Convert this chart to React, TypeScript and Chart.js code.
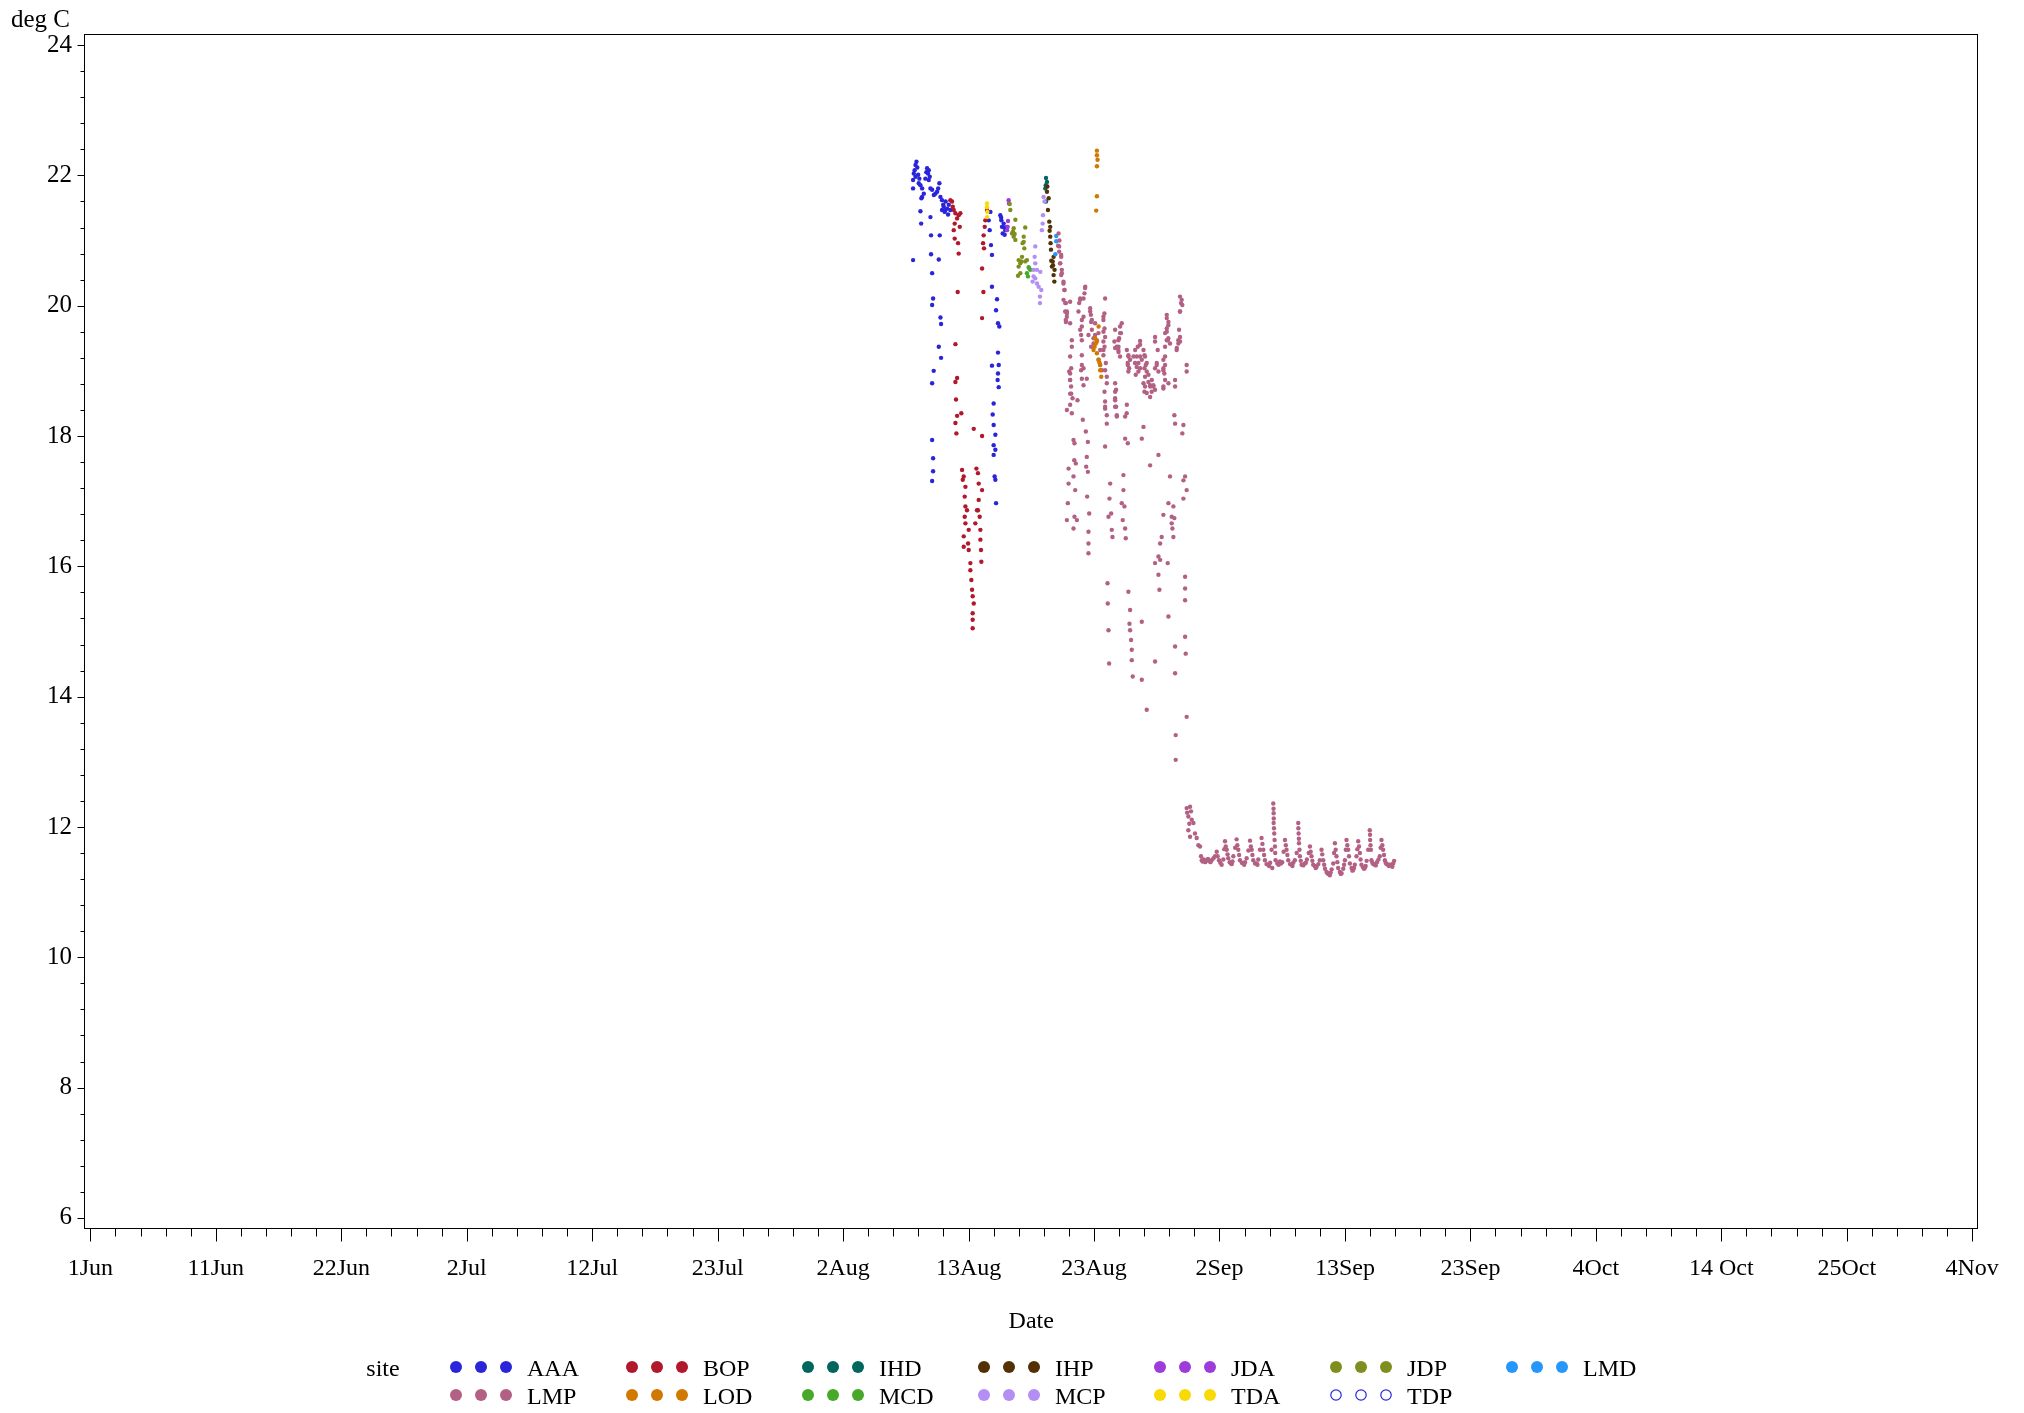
import React, { useEffect, useRef } from "react";
import { Chart, registerables } from "chart.js";

Chart.register(...registerables);

type Pt = [number, number];

// x = days since 1 Jun (fractional), y = deg C
const SITES = ["AAA", "BOP", "IHD", "IHP", "JDA", "JDP", "LMD", "LMP", "LOD", "MCD", "MCP", "TDA", "TDP"];
const COLORS = ["#2A25D9", "#B2182B", "#01665E", "#543005", "#9D3CDB", "#7F8E1F", "#2597FA", "#B26084", "#D17800", "#47A82A", "#B38EF3", "#F9DA04", "#2A25D9"];
const HOLLOW = [false, false, false, false, false, false, false, false, false, false, false, false, true];

const AAA: Pt[] = [
  [68.48, 22.21], [68.40, 22.16], [68.26, 22.03], [68.20, 21.93], [68.40, 21.98], [68.62, 22.01], [68.67, 21.88], [68.81, 21.85],
  [68.95, 21.80], [69.09, 21.72], [68.95, 21.67], [68.89, 21.65], [68.20, 21.80], [69.36, 22.11], [69.50, 22.08], [69.44, 22.03],
  [69.22, 21.95], [69.50, 21.93], [69.64, 21.80], [69.78, 21.78], [70.05, 21.72], [70.19, 21.75], [70.38, 21.88], [70.47, 21.67],
  [70.60, 21.62], [70.74, 21.52], [70.88, 21.47], [71.02, 21.49], [71.16, 21.55], [71.29, 21.47], [70.60, 21.47], [70.82, 21.44],
  [68.81, 21.45], [68.87, 21.26], [69.64, 21.36], [69.69, 21.08], [70.41, 21.08], [69.69, 20.79], [70.33, 20.71], [68.20, 20.70],
  [69.78, 20.50], [69.86, 20.11], [69.78, 20.01], [70.47, 19.82], [70.52, 19.72], [70.33, 19.37], [70.52, 19.20], [69.91, 19.00],
  [69.78, 18.81], [69.78, 17.94], [69.86, 17.66], [69.86, 17.46], [69.78, 17.31],
  [68.55, 22.12], [68.33, 22.08], [68.72, 21.95], [69.30, 22.05], [69.58, 21.98], [69.92, 21.70], [70.28, 21.80], [70.90, 21.60],
  [71.10, 21.40], [70.70, 21.55],
  [74.61, 21.44], [74.47, 21.31], [74.55, 21.16], [74.66, 20.93], [74.74, 20.78], [74.74, 20.29], [75.16, 20.10], [75.08, 19.93],
  [75.24, 19.73], [75.35, 19.68], [75.24, 19.28], [74.74, 19.08], [75.30, 19.09], [75.24, 18.96], [75.21, 18.86], [75.30, 18.75],
  [74.88, 18.50], [74.80, 18.33], [74.88, 18.17], [75.02, 18.02], [74.88, 17.86], [75.02, 17.79], [74.88, 17.71], [74.96, 17.38],
  [75.02, 17.33], [75.08, 16.97],
  [75.43, 21.39], [75.52, 21.31], [75.71, 21.26], [75.85, 21.16], [75.63, 21.11], [75.99, 21.21], [75.79, 21.09], [75.57, 21.21],
  [75.50, 21.35], [75.75, 21.20],
];

const BOP: Pt[] = [
  [71.29, 21.62], [71.43, 21.60], [71.49, 21.52], [71.57, 21.47], [71.71, 21.42], [71.98, 21.39], [72.12, 21.42], [71.85, 21.34],
  [71.65, 21.26], [71.57, 21.16], [72.07, 21.21], [71.65, 21.03], [71.93, 20.96], [71.98, 20.80], [71.90, 20.21], [71.71, 19.41],
  [71.85, 18.89], [71.71, 18.83], [71.76, 18.56], [72.20, 18.35], [71.85, 18.31], [71.71, 18.20], [71.79, 18.04], [73.23, 18.11],
  [73.92, 18.00],
  [72.26, 17.48], [72.40, 17.38], [72.54, 17.22], [72.48, 17.07], [72.67, 16.86], [72.48, 16.76], [72.81, 16.56], [72.40, 16.46],
  [72.76, 16.35], [72.40, 16.30], [72.95, 16.05], [73.03, 15.79], [73.14, 15.54], [73.23, 15.43], [73.14, 15.28], [73.14, 15.18],
  [73.14, 15.05], [72.54, 16.92], [72.32, 17.33], [72.81, 16.25], [72.95, 15.94], [73.09, 15.64], [72.54, 16.66],
  [73.45, 17.50], [73.58, 17.43], [73.64, 17.27], [73.92, 17.17], [73.64, 17.02], [73.58, 16.86], [73.72, 16.76], [73.36, 16.66],
  [73.78, 16.56], [73.78, 16.41], [73.83, 16.25], [73.86, 16.07], [73.50, 16.86],
  [74.33, 21.47], [74.19, 21.31], [74.14, 21.21], [74.05, 21.08], [74.00, 20.96], [74.08, 20.88], [74.03, 20.21], [73.92, 19.81],
  [73.92, 20.57],
];

const IHD: Pt[] = [[79.22, 21.96], [79.16, 21.80], [79.22, 21.60], [79.30, 21.90], [79.20, 21.85]];

const IHP: Pt[] = [
  [79.30, 21.75], [79.44, 21.65], [79.38, 21.47], [79.49, 21.29], [79.57, 21.21], [79.57, 21.06], [79.60, 20.96], [79.63, 20.86],
  [79.85, 20.75], [79.77, 20.68], [79.71, 20.60], [79.93, 20.55], [79.85, 20.47], [79.91, 20.37], [79.33, 21.83], [79.66, 20.69],
  [79.80, 20.62], [79.52, 21.15],
];

const JDA: Pt[] = [[76.12, 21.62], [76.07, 21.30], [76.04, 21.21], [75.99, 21.16], [76.15, 21.57]];

const JDP: Pt[] = [
  [76.21, 21.56], [76.26, 21.47], [76.68, 21.32], [77.50, 21.20], [76.54, 21.19], [76.40, 21.11], [76.54, 21.06], [76.68, 21.01],
  [77.37, 21.06], [77.28, 20.96], [77.42, 20.88], [77.23, 20.75], [76.95, 20.70], [77.09, 20.65], [77.50, 20.68], [77.64, 20.70],
  [76.95, 20.60], [77.09, 20.50], [76.90, 20.46], [76.48, 21.14], [76.62, 21.10], [77.37, 20.98], [77.17, 20.68],
];

const LMD: Pt[] = [[80.07, 21.07], [80.07, 20.99], [79.99, 20.79]];

const LMP: Pt[] = [
  [80.26, 21.11], [80.33, 21.00], [80.22, 20.92],
  [80.31, 20.83], [80.48, 20.75], [80.40, 20.65], [80.53, 20.55], [80.48, 20.47], [80.67, 20.34], [80.75, 20.24], [80.67, 20.09],
  [80.87, 20.04], [80.81, 19.91], [80.95, 19.83],
  [81.22, 20.06], [80.95, 19.91], [80.87, 19.75], [81.22, 19.73], [81.36, 19.47], [81.22, 19.22], [81.31, 19.04], [81.14, 18.99],
  [81.22, 18.86], [81.31, 18.65], [81.42, 18.58], [80.95, 18.40], [81.50, 17.94], [81.58, 17.89], [81.56, 17.63], [81.09, 17.50],
  [81.69, 17.58], [81.50, 17.38], [81.64, 17.17], [81.09, 17.27], [81.58, 16.76], [81.78, 16.71], [81.03, 16.97], [80.95, 16.71],
  [81.50, 16.58], [81.83, 18.55], [81.22, 18.65],
  [82.47, 20.29], [82.41, 20.19], [82.05, 20.11], [81.97, 20.04], [82.88, 19.96], [82.94, 19.86], [83.02, 19.78], [82.33, 19.83],
  [82.19, 19.68], [82.13, 19.55], [82.74, 19.55], [83.16, 19.50], [82.96, 19.37], [82.19, 19.24], [82.19, 19.09], [82.33, 19.04],
  [82.60, 18.88], [82.19, 18.88], [82.27, 18.25], [82.52, 18.07], [82.69, 17.91], [82.60, 17.68], [82.69, 17.45], [82.63, 17.07],
  [82.80, 16.81], [82.74, 16.53], [82.74, 16.35], [82.74, 16.20], [82.55, 17.53],
  [83.29, 19.73], [83.29, 19.55], [83.57, 19.58], [83.43, 19.47], [83.16, 19.42], [83.71, 19.32], [83.57, 19.17], [83.71, 19.09],
  [83.85, 19.01], [83.98, 19.83], [84.07, 19.65], [84.12, 19.52], [84.07, 19.37], [84.18, 19.12], [84.26, 18.91], [84.07, 18.68],
  [84.12, 18.53], [84.12, 18.45], [84.26, 18.19], [84.12, 17.84], [84.32, 15.74], [84.34, 15.43], [84.40, 15.02], [84.45, 14.51],
  [84.54, 17.27], [84.48, 17.04], [84.62, 16.81], [84.67, 16.56], [84.73, 16.45], [84.40, 16.76],
  [84.95, 19.63], [84.89, 19.45], [85.28, 19.50], [85.23, 19.37], [85.36, 19.58], [85.50, 19.73], [85.23, 19.29], [84.95, 18.81],
  [85.03, 18.71], [84.95, 18.58], [85.03, 18.45], [85.09, 18.32], [85.92, 18.48], [85.78, 17.96], [86.00, 17.89], [86.05, 15.61],
  [86.19, 15.33], [86.14, 15.12], [86.19, 15.02], [86.27, 14.87], [86.33, 14.72], [86.33, 14.56], [86.41, 14.31], [85.64, 17.40],
  [85.64, 17.17], [85.50, 16.97], [85.72, 16.92], [85.58, 16.71], [85.78, 16.58], [85.83, 16.43], [85.92, 19.32], [86.05, 19.22],
  [86.00, 19.09], [86.05, 18.99], [86.19, 19.17],
  [86.61, 19.32], [86.74, 19.22], [86.88, 19.12], [87.02, 19.04], [86.83, 19.37], [87.02, 19.46], [87.30, 19.32], [87.43, 19.22],
  [87.57, 19.12], [87.38, 19.04], [87.30, 18.81], [87.43, 18.76], [87.71, 18.83], [87.85, 18.78], [87.99, 18.86], [88.12, 18.76],
  [87.85, 18.60], [87.30, 18.14], [87.16, 17.96], [87.85, 17.55], [87.57, 13.80], [87.16, 14.26], [87.16, 15.15], [88.26, 14.54],
  [88.54, 17.71], [88.26, 19.52], [88.40, 19.12], [88.26, 19.04], [88.48, 19.32],
  [89.23, 19.86], [89.37, 19.75], [89.23, 19.65], [89.09, 19.58], [89.31, 19.47], [89.09, 19.37], [88.95, 19.17], [89.09, 19.09],
  [88.95, 19.01], [89.37, 18.81], [88.95, 18.73], [89.92, 18.86], [90.33, 20.14], [90.41, 20.04], [90.33, 19.91], [90.25, 19.63],
  [90.33, 19.52], [90.19, 19.42], [90.06, 19.35], [90.88, 19.09], [89.86, 18.32], [90.61, 18.17], [89.50, 17.38], [89.78, 16.92],
  [89.64, 16.66], [89.78, 16.45], [89.64, 16.76], [89.37, 16.97], [88.81, 16.45], [88.68, 16.35], [88.54, 16.15], [88.68, 16.10],
  [88.26, 16.05], [88.54, 15.87], [88.62, 15.64], [89.31, 16.05], [90.75, 17.38], [90.61, 17.32], [90.88, 17.17], [90.61, 17.04],
  [90.75, 15.84], [90.75, 15.66], [90.75, 15.48], [90.75, 14.92], [90.80, 14.66], [89.92, 14.77], [89.92, 14.36], [90.88, 13.69],
  [89.97, 13.41], [89.37, 15.23], [88.95, 16.79], [89.86, 16.74], [89.70, 16.58],
  // denser cluster readings
  [86.05, 19.24], [85.99, 19.12], [86.11, 19.04], [86.47, 19.22], [86.60, 19.12], [86.74, 19.06], [86.88, 18.99], [86.66, 18.94],
  [87.02, 19.22], [87.16, 19.17], [87.38, 19.24], [87.49, 19.09], [87.57, 18.99], [87.71, 18.94], [87.43, 18.91], [87.85, 18.76],
  [87.98, 18.68], [88.12, 18.78], [88.26, 18.71], [87.38, 18.68], [87.57, 18.66], [88.40, 19.09], [88.54, 18.99], [88.95, 19.04],
  [89.03, 18.96], [89.09, 19.22], [89.23, 19.47], [89.36, 19.50], [89.50, 19.42], [90.19, 19.47], [90.33, 19.45], [90.05, 19.32],
  [90.47, 20.09], [90.52, 20.01], [90.33, 19.91], [89.23, 19.81], [89.36, 19.70], [89.23, 19.60], [88.26, 19.45], [87.02, 19.40],
  [85.36, 19.68], [85.44, 19.58], [85.22, 19.47], [85.09, 19.37], [85.22, 19.32], [85.36, 19.22], [84.95, 19.35], [84.12, 20.11],
  [84.06, 19.88], [83.98, 19.78], [83.98, 19.60], [83.98, 19.45], [83.98, 19.32], [83.98, 19.24], [84.12, 19.01], [84.26, 18.81],
  [84.95, 18.68], [84.95, 18.55], [84.95, 18.45], [85.09, 18.30], [84.12, 18.42], [84.26, 18.32], [85.91, 18.35], [85.78, 18.30],
  [89.09, 18.86], [88.95, 18.76], [89.92, 18.76], [90.88, 18.99], [89.92, 18.19], [90.52, 18.04],
  [82.46, 20.27], [82.33, 20.11], [82.05, 20.09], [81.91, 19.91], [82.19, 19.78], [82.05, 19.63], [82.19, 19.47], [82.88, 19.91],
  [82.96, 19.75], [83.02, 19.63], [81.36, 19.37], [81.22, 18.96], [81.22, 18.86], [81.30, 18.76], [81.22, 18.48], [81.36, 18.35],
  [82.13, 19.01], [82.33, 18.78], [80.81, 20.04], [80.95, 19.88], [80.86, 19.78], [80.75, 20.24], [80.67, 20.37], [80.53, 20.50],
  [80.39, 20.65], [80.48, 20.78], [80.31, 20.91],
  // cold-water plateau
  [89.97, 13.03],
  [90.88, 12.29], [90.92, 12.22], [91.02, 12.16], [91.02, 11.95], [91.10, 12.05], [91.16, 12.31], [91.16, 11.85], [91.24, 12.24],
  [91.30, 12.11], [91.44, 12.06], [91.57, 11.90], [91.71, 11.83], [91.85, 11.72], [91.99, 11.70], [92.07, 11.55], [92.13, 11.49],
  [92.30, 11.50], [92.54, 11.49], [92.75, 11.48], [92.95, 11.49], [93.10, 11.52], [93.23, 11.55], [93.37, 11.62], [93.45, 11.55],
  [93.56, 11.49], [93.78, 11.42], [93.92, 11.50], [92.20, 11.47], [92.42, 11.46], [92.65, 11.51], [92.85, 11.46], [93.67, 11.45],
  [94.00, 11.66], [94.06, 11.78], [94.12, 11.70], [94.20, 11.65], [94.33, 11.52], [94.45, 11.46], [94.55, 11.44], [94.68, 11.47],
  [94.75, 11.55], [94.90, 11.68], [94.27, 11.58], [94.62, 11.43],
  [95.02, 11.81], [95.08, 11.72], [95.16, 11.65], [95.30, 11.49], [95.45, 11.45], [95.58, 11.44], [95.72, 11.46], [95.85, 11.52],
  [96.00, 11.64], [95.23, 11.57], [95.65, 11.42],
  [96.13, 11.79], [96.20, 11.70], [96.27, 11.65], [96.40, 11.49], [96.55, 11.44], [96.68, 11.44], [96.82, 11.50], [96.96, 11.65],
  [96.33, 11.57], [96.75, 11.42],
  [97.09, 11.83], [97.16, 11.74], [97.23, 11.65], [97.37, 11.49], [97.50, 11.43], [97.65, 11.42], [97.80, 11.45], [97.92, 11.65],
  [97.98, 11.37], [97.30, 11.57], [97.72, 11.40],
  [98.06, 12.36], [98.09, 12.21], [98.09, 12.06], [98.12, 11.98], [98.14, 11.90], [98.17, 11.80], [98.20, 11.70], [98.25, 11.49],
  [98.40, 11.44], [98.61, 11.47], [98.80, 11.46], [98.92, 11.62], [98.08, 12.28], [98.10, 12.13], [98.22, 11.60], [98.50, 11.42],
  [98.70, 11.44],
  [99.03, 11.80], [99.10, 11.72], [99.16, 11.65], [99.30, 11.49], [99.45, 11.43], [99.58, 11.42], [99.72, 11.45], [99.85, 11.49],
  [100.00, 11.60], [99.23, 11.57], [99.65, 11.40],
  [100.13, 12.06], [100.14, 11.98], [100.16, 11.90], [100.18, 11.82], [100.19, 11.75], [100.23, 11.65], [100.27, 11.55],
  [100.41, 11.42], [100.55, 11.41], [100.68, 11.44], [100.85, 11.50], [101.00, 11.60], [100.34, 11.48], [100.76, 11.45],
  [101.10, 11.70], [101.23, 11.55], [101.37, 11.42], [101.50, 11.40], [101.65, 11.39], [101.80, 11.43], [101.92, 11.49],
  [101.16, 11.62], [101.30, 11.48], [101.58, 11.37],
  [102.06, 11.65], [102.12, 11.58], [102.20, 11.49], [102.35, 11.36], [102.48, 11.31], [102.62, 11.28], [102.75, 11.26],
  [102.90, 11.35], [103.03, 11.44], [103.10, 11.60], [102.28, 11.42], [102.55, 11.29], [102.82, 11.30],
  [103.17, 11.75], [103.23, 11.65], [103.30, 11.55], [103.44, 11.37], [103.58, 11.31], [103.72, 11.29], [103.86, 11.36],
  [104.00, 11.49], [104.07, 11.65], [103.37, 11.46], [103.65, 11.28], [103.93, 11.42],
  [104.13, 11.80], [104.20, 11.72], [104.27, 11.65], [104.41, 11.44], [104.55, 11.37], [104.68, 11.34], [104.82, 11.42],
  [104.96, 11.55], [105.03, 11.66], [104.34, 11.55], [104.62, 11.33], [104.75, 11.37],
  [105.10, 11.78], [105.17, 11.70], [105.24, 11.60], [105.37, 11.42], [105.50, 11.38], [105.65, 11.37], [105.80, 11.48],
  [105.93, 11.65], [105.30, 11.50], [105.58, 11.36], [105.72, 11.40],
  [106.06, 11.95], [106.08, 11.88], [106.09, 11.80], [106.12, 11.72], [106.15, 11.65], [106.20, 11.49], [106.35, 11.43],
  [106.48, 11.42], [106.65, 11.46], [106.78, 11.50], [106.89, 11.55], [106.96, 11.68], [106.27, 11.45], [106.56, 11.41],
  [107.03, 11.80], [107.10, 11.72], [107.17, 11.65], [107.31, 11.49], [107.45, 11.43], [107.58, 11.42], [107.72, 11.42],
  [107.86, 11.42], [108.00, 11.44], [108.08, 11.48], [107.24, 11.57], [107.38, 11.45], [107.65, 11.40], [107.93, 11.39],
];

const LOD: Pt[] = [
  [83.44, 22.38], [83.44, 22.31], [83.49, 22.24], [83.44, 22.14], [83.44, 21.68], [83.38, 21.46], [83.58, 19.68], [83.30, 19.50],
  [83.44, 19.45], [83.25, 19.37], [83.16, 19.32], [83.44, 19.27], [83.58, 19.17], [83.71, 19.09], [83.71, 19.01], [83.80, 18.91],
  [83.35, 19.42], [83.65, 19.13],
];

const MCD: Pt[] = [[77.78, 20.59], [77.92, 20.55], [77.64, 20.50], [77.72, 20.45], [77.84, 20.57]];

const MCP: Pt[] = [
  [79.02, 21.67], [79.10, 21.60], [78.97, 21.39], [78.94, 21.26], [78.88, 21.16], [78.33, 20.91], [78.28, 20.75], [78.33, 20.65],
  [78.19, 20.55], [78.47, 20.55], [78.75, 20.52], [78.33, 20.42], [78.47, 20.34], [78.61, 20.29], [78.83, 20.24], [78.72, 20.14],
  [78.72, 20.04], [78.11, 20.37], [78.19, 20.45],
];

const TDA: Pt[] = [[74.33, 21.57], [74.33, 21.51], [74.36, 21.44], [74.33, 21.36]];

const TDP: Pt[] = [];

const SERIES: Pt[][] = [AAA, BOP, IHD, IHP, JDA, JDP, LMD, LMP, LOD, MCD, MCP, TDA, TDP];

const X_TICK_LABELS = ["1Jun", "11Jun", "22Jun", "2Jul", "12Jul", "23Jul", "2Aug", "13Aug", "23Aug", "2Sep", "13Sep", "23Sep", "4Oct", "14 Oct", "25Oct", "4Nov"];
const X_TICK_STEP = 10.4; // days between labelled ticks
const X_MINOR_PER_MAJOR = 5;
const Y_TICKS = [6, 8, 10, 12, 14, 16, 18, 20, 22, 24];
const Y_MINOR_PER_MAJOR = 5;
const X_MIN = -0.53;
const X_MAX = 156.52;
const Y_MIN = 5.83;
const Y_MAX = 24.17;

const FONT = "'Liberation Serif', 'Times New Roman', Times, serif";

const decorPlugin = {
  id: "decor",
  afterDraw(chart: any) {
    const ctx: CanvasRenderingContext2D = chart.ctx;
    const { left, right, top, bottom } = chart.chartArea;
    const xs = chart.scales.x;
    const ys = chart.scales.y;
    ctx.save();
    ctx.strokeStyle = "#000";
    ctx.lineWidth = 1;
    const L = Math.round(left) + 0.5;
    const R = Math.round(right) - 0.5;
    const T = Math.round(top) + 0.5;
    const B = Math.round(bottom) - 0.5;
    ctx.strokeRect(L, T, R - L, B - T);
    ctx.beginPath();
    const nx = (X_TICK_LABELS.length - 1) * X_MINOR_PER_MAJOR;
    for (let k = 0; k <= nx; k++) {
      const v = (k * X_TICK_STEP) / X_MINOR_PER_MAJOR;
      const px = Math.round(xs.getPixelForValue(v)) + 0.5;
      const len = k % X_MINOR_PER_MAJOR === 0 ? 13 : 8;
      ctx.moveTo(px, B);
      ctx.lineTo(px, B + len);
    }
    const ystep = (Y_TICKS[1] - Y_TICKS[0]) / Y_MINOR_PER_MAJOR;
    const ny = (Y_TICKS.length - 1) * Y_MINOR_PER_MAJOR;
    for (let k = 0; k <= ny; k++) {
      const v = Y_TICKS[0] + k * ystep;
      const py = Math.round(ys.getPixelForValue(v)) + 0.5;
      const len = k % Y_MINOR_PER_MAJOR === 0 ? 7 : 4;
      ctx.moveTo(L, py);
      ctx.lineTo(L - len, py);
    }
    ctx.stroke();

    ctx.fillStyle = "#000";
    ctx.font = `25px ${FONT}`;
    ctx.textAlign = "left";
    ctx.textBaseline = "alphabetic";
    ctx.fillText("deg C", 11, 27);

    const x0 = 456, dx = 176, dotDx = 25, rowsY = [1367, 1395], cols = 7;
    ctx.font = `24px ${FONT}`;
    ctx.textBaseline = "middle";
    ctx.textAlign = "center";
    ctx.fillText("site", 383, 1370);
    ctx.textAlign = "left";
    SITES.forEach((name, i) => {
      const col = i % cols;
      const row = Math.floor(i / cols);
      const x = x0 + col * dx;
      const y = rowsY[row];
      for (let d = 0; d < 3; d++) {
        ctx.beginPath();
        ctx.arc(x + d * dotDx, y, HOLLOW[i] ? 5.2 : 6, 0, Math.PI * 2);
        if (HOLLOW[i]) {
          ctx.strokeStyle = COLORS[i];
          ctx.lineWidth = 1.2;
          ctx.stroke();
        } else {
          ctx.fillStyle = COLORS[i];
          ctx.fill();
        }
      }
      ctx.fillStyle = "#000";
      ctx.fillText(name, x + 71, y + 3);
    });
    ctx.restore();
  },
};

export default function App() {
  const ref = useRef<HTMLCanvasElement>(null);
  useEffect(() => {
    const canvas = ref.current;
    if (!canvas) return;
    const chart = new Chart(canvas, {
      type: "scatter",
      data: {
        datasets: SITES.map((name, i) => ({
          label: name,
          data: SERIES[i].map(([x, y]) => ({ x, y })),
          backgroundColor: HOLLOW[i] ? "rgba(0,0,0,0)" : COLORS[i],
          borderColor: COLORS[i],
          pointRadius: 2.2,
          pointHoverRadius: 2.2,
          pointBorderWidth: HOLLOW[i] ? 1 : 0,
          showLine: false,
          order: SITES.length - i,
        })),
      },
      options: {
        responsive: false,
        animation: false,
        devicePixelRatio: 1,
        events: [],
        layout: { padding: { left: 0, right: 43, top: 34, bottom: 77 } },
        plugins: { legend: { display: false }, tooltip: { enabled: false } },
        scales: {
          x: {
            type: "linear",
            min: X_MIN,
            max: X_MAX,
            grid: { display: false, drawTicks: false },
            border: { display: false },
            afterBuildTicks: (s: any) => {
              s.ticks = X_TICK_LABELS.map((_, i) => ({ value: i * X_TICK_STEP }));
            },
            afterFit: (s: any) => {
              s.height = 107;
            },
            ticks: {
              autoSkip: false,
              maxRotation: 0,
              minRotation: 0,
              padding: 25,
              color: "#000",
              font: { family: FONT, size: 24 },
              callback: (_v: any, i: number) => X_TICK_LABELS[i],
            },
            title: {
              display: true,
              text: "Date",
              color: "#000",
              font: { family: FONT, size: 24 },
              padding: { top: 0, bottom: 0 },
            },
          },
          y: {
            type: "linear",
            min: Y_MIN,
            max: Y_MAX,
            grid: { display: false, drawTicks: false },
            border: { display: false },
            afterBuildTicks: (s: any) => {
              s.ticks = Y_TICKS.map((v) => ({ value: v }));
            },
            afterFit: (s: any) => {
              s.width = 84;
            },
            ticks: {
              autoSkip: false,
              padding: 12,
              color: "#000",
              font: { family: FONT, size: 25 },
              callback: (v: any) => String(v),
            },
          },
        },
      },
      plugins: [decorPlugin],
    });
    return () => chart.destroy();
  }, []);
  return (
    <div style={{ position: "absolute", left: 0, top: 0, width: 2024, height: 1413, background: "#fff" }}>
      <canvas ref={ref} width={2024} height={1413} style={{ display: "block" }} />
    </div>
  );
}
